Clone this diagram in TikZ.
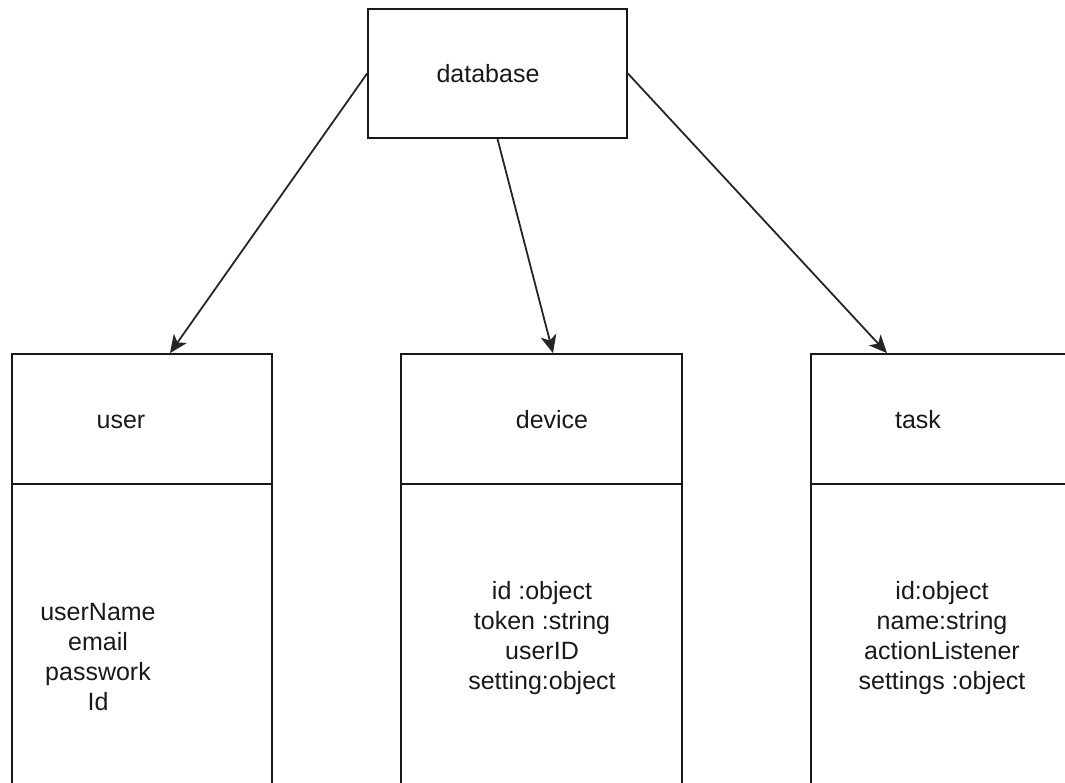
\documentclass[tikz,border=0pt]{standalone}
\usepackage{fontspec}
\setmainfont{Liberation Sans}
\usetikzlibrary{arrows.meta}
\begin{document}
\begin{tikzpicture}[x=1pt,y=-1pt,
  box/.style={draw=black!90, line width=1.8pt, rectangle, inner sep=0pt},
  lbl/.style={inner sep=0pt, font=\fontsize{25}{30}\selectfont, text=black!90},
  attr/.style={lbl, align=center},
  arr/.style={draw=black!85, line width=1.8pt, -{Stealth[length=18pt,width=16pt,inset=5pt]}}]
\useasboundingbox (0,0) rectangle (1065,782);
\clip (0,0) rectangle (1065,782);
% database
\node[box, minimum width=259pt, minimum height=129pt] (db) at (497.5,73.5) {};
\node[lbl, anchor=base] (dbl) at (488,82) {database};
% headers
\node[box, minimum width=260pt, minimum height=130pt] (user) at (142,419) {};
\node[box, minimum width=281pt, minimum height=130pt] (device) at (541.5,419) {};
\node[box, minimum width=274pt, minimum height=130pt] (task) at (948,419) {};
% bodies
\node[box, minimum width=260pt, minimum height=320pt] (userbody) at (142,644) {};
\node[box, minimum width=281pt, minimum height=320pt] (devicebody) at (541.5,644) {};
\node[box, minimum width=274pt, minimum height=320pt] (taskbody) at (948,644) {};
% labels
\node[lbl, anchor=base] (userl) at (121,428) {user};
\node[lbl, anchor=base] (devicel) at (552,428) {device};
\node[lbl, anchor=base] (taskl) at (918,428) {task};
% attributes
\node[attr] (usera) at (98,657) {userName\\email\\passwork\\Id};
\node[attr] (devicea) at (542,638) {id :object\\token :string\\userID\\setting:object};
\node[attr] (taska) at (942,638) {id:object\\name:string\\actionListener\\settings :object};
% arrows
\draw[arr] (db.west) -- ([xshift=28pt]user.north);
\draw[arr] (db.south) -- ([xshift=11.5pt]device.north);
\draw[arr] (db.east) -- ([xshift=-61pt]task.north);
\end{tikzpicture}
\end{document}
